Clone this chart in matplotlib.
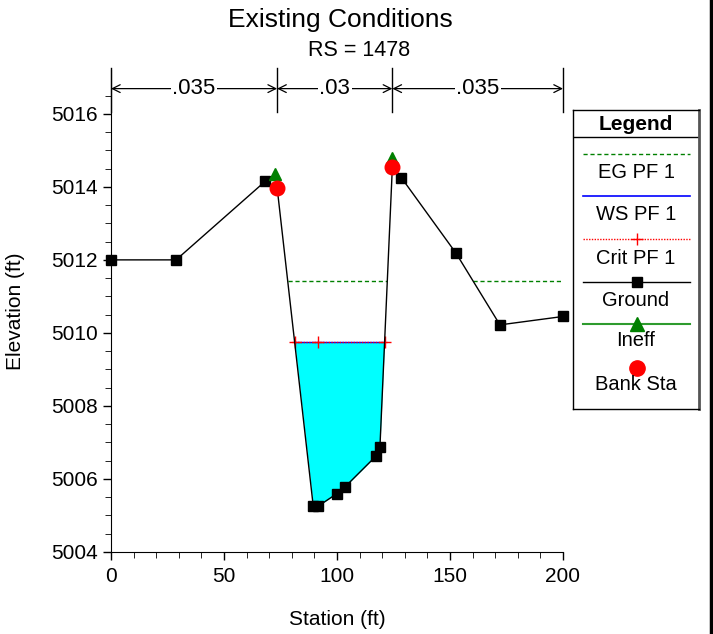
"""
plot.py - HEC-RAS style cross section, RS 1478
"""

import numpy as np
import matplotlib.pyplot as plt
from matplotlib.lines import Line2D

plt.rcParams['font.family'] = ['Liberation Sans', 'DejaVu Sans']

# ground survey
sta = [0, 28.8, 68.2, 73.5, 89.5, 91.5, 100, 103.5, 117.3, 119, 124.5, 128.5, 152.7, 172.1, 200]
elev = [5012.0, 5012.0, 5014.15, 5013.98, 5005.25, 5005.25, 5005.6, 5005.78,
        5006.63, 5006.88, 5014.55, 5014.25, 5012.18, 5010.22, 5010.45]

bank_sta = [73.5, 124.5]
bank_elev = [5013.98, 5014.55]
ineff_sta = [72.6, 124.5]
ineff_elev = [5014.35, 5014.8]

ws_elev = 5009.75
crit_elev = 5009.75
crit_sta = 91.5
eg_elev = 5011.42

n_vals = ['.035', '.03', '.035']
n_bounds = [0, 73.5, 124.5, 200]


def wet_ranges(x, y, level):
    # return (start, end) pieces where ground is below level
    x = np.asarray(x, float)
    y = np.asarray(y, float)
    out = []
    start = None
    for i in range(len(x) - 1):
        a, b = y[i] - level, y[i + 1] - level
        if start is None and a < 0:
            start = x[i]
        if a >= 0 and b < 0:
            start = x[i] + (x[i + 1] - x[i]) * a / (a - b)
        if a < 0 and b >= 0:
            end = x[i] + (x[i + 1] - x[i]) * a / (a - b)
            out.append((start, end))
            start = None
    if start is not None:
        out.append((start, x[-1]))
    return out


fig = plt.figure(figsize=(7.13, 6.34), dpi=100)
ax = fig.add_axes([111 / 713, 82 / 634, 452 / 713, 482 / 634])

# water fill in the main channel
ch = [i for i, s in enumerate(sta) if bank_sta[0] <= s <= bank_sta[1]]
cs = np.array([sta[i] for i in ch])
ce = np.array([elev[i] for i in ch])
ax.fill_between(cs, ce, ws_elev, where=ce < ws_elev, interpolate=True,
                color='cyan', lw=0, zorder=1)

# EG
for a, b in wet_ranges(sta, elev, eg_elev):
    ax.plot([a, b], [eg_elev, eg_elev], color='green', ls=(0, (3, 2)), lw=1, zorder=2)

# WS and crit
ws_l, ws_r = wet_ranges(sta, elev, ws_elev)[0]
ax.plot([ws_l, ws_r], [ws_elev, ws_elev], color='blue', lw=1, zorder=3)
ax.plot([ws_l - 1, ws_r + 1], [crit_elev, crit_elev], color='red', ls=(0, (1, 1)), lw=1, zorder=3)
ax.plot([ws_l, crit_sta, ws_r], [crit_elev] * 3, ls='none', marker='+', color='red',
        ms=9, mew=1, zorder=4)

# ground
ax.plot(sta, elev, color='black', lw=1, marker='s', ms=6.5, zorder=4, clip_on=False)
ax.plot(ineff_sta, ineff_elev, ls='none', marker='^', color='green', ms=9, zorder=5)
ax.plot(bank_sta, bank_elev, ls='none', marker='o', color='red', ms=10.5, zorder=6)

# n values along top
y_n = 5016.69
for xb in n_bounds:
    ax.plot([xb, xb], [5016.05, 5017.25], color='black', lw=1, clip_on=False)
for i, lab in enumerate(n_vals):
    x0, x1 = n_bounds[i], n_bounds[i + 1]
    ax.annotate('', xy=(x0, y_n), xytext=(x1, y_n), annotation_clip=False,
                arrowprops=dict(arrowstyle='<->', lw=0.9, color='black',
                                shrinkA=0, shrinkB=0, mutation_scale=14))
    ax.text((x0 + x1) / 2, y_n, lab, ha='center', va='center', fontsize=16,
            bbox=dict(facecolor='white', edgecolor='none', pad=1))

ax.set_xlim(0, 200)
ax.set_ylim(5004, 5017.2)
ax.set_xticks([0, 50, 100, 150, 200])
ax.set_xticks(np.arange(0, 201, 10), minor=True)
ax.set_yticks(np.arange(5004, 5017, 2))
ax.set_yticks(np.arange(5004, 5017, 0.5), minor=True)
ax.tick_params(labelsize=15, length=6, width=1)
ax.tick_params(axis='x', pad=5)
ax.tick_params(which='minor', length=4)
for side in ['top', 'right']:
    ax.spines[side].set_visible(False)
ax.set_xlabel('Station (ft)', fontsize=15, labelpad=17)
ax.set_ylabel('Elevation (ft)', fontsize=15, labelpad=19)

fig.text(340 / 713, 1 - 20 / 634, 'Existing Conditions', ha='center', va='center', fontsize=19)
fig.text(359 / 713, 1 - 50 / 634, 'RS = 1478', ha='center', va='center', fontsize=15.5)

# legend box built by hand
W, H = 713, 634
lx0, lx1, ly0, ly1 = 573, 699, 110, 409
lax = fig.add_axes([lx0 / W, 1 - ly1 / H, (lx1 - lx0) / W, (ly1 - ly0) / H])
lax.set_xlim(lx0, lx1)
lax.set_ylim(ly1, ly0)
lax.set_xticks([])
lax.set_yticks([])
for s in lax.spines.values():
    s.set_linewidth(1)
lax.spines['right'].set_linewidth(2)
lax.spines['right'].set_color('#555555')
lax.plot([lx0, lx1], [137, 137], color='black', lw=1)
lax.text((lx0 + lx1) / 2, 124, 'Legend', ha='center', va='center', fontsize=15, fontweight='bold')
cx = (lx0 + lx1) / 2
entries = [
    ('EG PF 1', dict(color='green', ls=(0, (3, 2)), lw=1), None, 154, 173),
    ('WS PF 1', dict(color='blue', lw=1.2), None, 196, 214),
    ('Crit PF 1', dict(color='red', ls=(0, (1, 1)), lw=1), dict(marker='+', color='red', ms=9), 239, 258),
    ('Ground', dict(color='black', lw=1), dict(marker='s', color='black', ms=6.5), 282, 300),
    ('Ineff', dict(color='#2e9b2e', lw=1.5), dict(marker='^', color='green', ms=10), 324, 341),
    ('Bank Sta', None, dict(marker='o', color='red', ms=11), 368, 385),
]
for lab, lkw, mkw, yl, yt in entries:
    if lkw:
        lax.plot([583, 690], [yl, yl], **lkw)
    if mkw:
        lax.plot([cx + 1], [yl], ls='none', **mkw)
    lax.text(cx, yt, lab, ha='center', va='center', fontsize=14.5)

# window border on the right
fig.add_artist(Line2D([711 / W, 711 / W], [0, 1], color='black', lw=2.5))

fig.savefig('out.png', dpi=100)
